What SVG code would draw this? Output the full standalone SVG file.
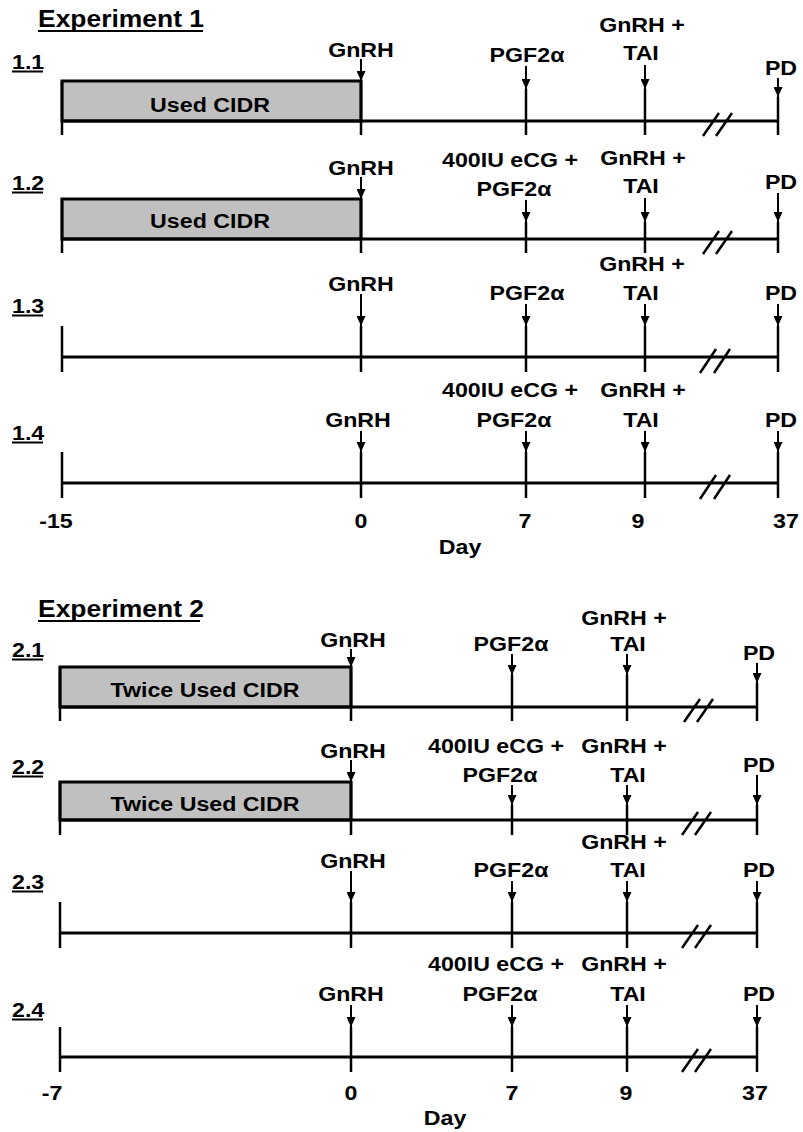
<svg xmlns="http://www.w3.org/2000/svg" width="803" height="1132" viewBox="0 0 803 1132">
<style>
.t{font-family:"Liberation Sans",Arial,sans-serif;font-weight:bold;font-size:20px;fill:#000}
.c{text-anchor:middle}
.h{font-size:23px}
.ax{stroke:#000;stroke-width:3;fill:none}
.tk{stroke:#000;stroke-width:2.5}
.box{fill:#c0c0c0;stroke:#000;stroke-width:3}
.ar{stroke:#000;stroke-width:2;fill:none;marker-end:url(#ah)}
.ul{stroke:#000;stroke-width:2}
.brk{stroke:#000;stroke-width:2.5}
</style>
<defs>
<marker id="ah" viewBox="0 0 10 10" refX="10" refY="5" markerWidth="10" markerHeight="9" markerUnits="userSpaceOnUse" orient="auto" preserveAspectRatio="none"><path d="M0,0 L10,5 L0,10 z" fill="#000"/></marker>
</defs>
<rect width="803" height="1132" fill="#fff"/>

<g id="title-exp1">
<text class="t h" transform="translate(38,27) scale(1.15,1)">Experiment 1</text>
<line class="ul" x1="38" y1="31" x2="203" y2="31"/>
</g>

<g id="row-1-1">
<text class="t" transform="translate(12,69) scale(1.16,1)">1.1</text>
<line class="ul" x1="12" y1="71.5" x2="43" y2="71.5"/>
<rect class="box" x="62" y="81" width="299" height="40"/>
<text class="t c" transform="translate(210,112) scale(1.16,1)">Used CIDR</text>
<line class="ax" x1="62" y1="121" x2="778" y2="121"/>
<line class="tk" x1="62" y1="81" x2="62" y2="135"/>
<line class="tk" x1="361" y1="81" x2="361" y2="135"/>
<line class="tk" x1="526" y1="89" x2="526" y2="135"/>
<line class="tk" x1="645" y1="89" x2="645" y2="135"/>
<line class="tk" x1="778" y1="97" x2="778" y2="135"/>
<line class="brk" x1="703" y1="136" x2="719" y2="113"/>
<line class="brk" x1="716" y1="136" x2="732" y2="113"/>
<text class="t c" transform="translate(361,57) scale(1.16,1)">GnRH</text>
<text class="t c" transform="translate(527,62) scale(1.16,1)">PGF2α</text>
<text class="t c" transform="translate(642,32) scale(1.16,1)">GnRH +</text>
<text class="t c" transform="translate(641,60) scale(1.16,1)">TAI</text>
<text class="t c" transform="translate(781,75) scale(1.16,1)">PD</text>
</g>

<g id="row-1-2">
<text class="t" transform="translate(12,190) scale(1.16,1)">1.2</text>
<line class="ul" x1="12" y1="192.5" x2="43" y2="192.5"/>
<rect class="box" x="62" y="199" width="299" height="40"/>
<text class="t c" transform="translate(210,228) scale(1.16,1)">Used CIDR</text>
<line class="ax" x1="62" y1="239" x2="778" y2="239"/>
<line class="tk" x1="62" y1="199" x2="62" y2="253"/>
<line class="tk" x1="361" y1="199" x2="361" y2="253"/>
<line class="tk" x1="526" y1="222" x2="526" y2="253"/>
<line class="tk" x1="645" y1="222" x2="645" y2="253"/>
<line class="tk" x1="778" y1="222" x2="778" y2="253"/>
<line class="brk" x1="703" y1="254" x2="719" y2="231"/>
<line class="brk" x1="716" y1="254" x2="732" y2="231"/>
<text class="t c" transform="translate(361,175) scale(1.16,1)">GnRH</text>
<text class="t c" transform="translate(510,167) scale(1.16,1)">400IU eCG +</text>
<text class="t c" transform="translate(514,196) scale(1.16,1)">PGF2α</text>
<text class="t c" transform="translate(643,165) scale(1.16,1)">GnRH +</text>
<text class="t c" transform="translate(641,193) scale(1.16,1)">TAI</text>
<text class="t c" transform="translate(781,189) scale(1.16,1)">PD</text>
</g>

<g id="row-1-3">
<text class="t" transform="translate(12,313) scale(1.16,1)">1.3</text>
<line class="ul" x1="12" y1="315.5" x2="43" y2="315.5"/>
<line class="ax" x1="62" y1="357" x2="778" y2="357"/>
<line class="tk" x1="62" y1="326" x2="62" y2="372"/>
<line class="tk" x1="361" y1="326" x2="361" y2="372"/>
<line class="tk" x1="526" y1="326" x2="526" y2="372"/>
<line class="tk" x1="645" y1="326" x2="645" y2="372"/>
<line class="tk" x1="778" y1="326" x2="778" y2="372"/>
<line class="brk" x1="700" y1="373" x2="716" y2="349"/>
<line class="brk" x1="714" y1="373" x2="730" y2="349"/>
<text class="t c" transform="translate(361,291) scale(1.16,1)">GnRH</text>
<text class="t c" transform="translate(527,300) scale(1.16,1)">PGF2α</text>
<text class="t c" transform="translate(642,271) scale(1.16,1)">GnRH +</text>
<text class="t c" transform="translate(641,300) scale(1.16,1)">TAI</text>
<text class="t c" transform="translate(781,300) scale(1.16,1)">PD</text>
</g>

<g id="row-1-4">
<text class="t" transform="translate(12,440) scale(1.16,1)">1.4</text>
<line class="ul" x1="12" y1="442.5" x2="43" y2="442.5"/>
<line class="ax" x1="62" y1="483" x2="778" y2="483"/>
<line class="tk" x1="62" y1="452" x2="62" y2="498"/>
<line class="tk" x1="361" y1="452" x2="361" y2="498"/>
<line class="tk" x1="526" y1="452" x2="526" y2="498"/>
<line class="tk" x1="645" y1="452" x2="645" y2="498"/>
<line class="tk" x1="778" y1="452" x2="778" y2="498"/>
<line class="brk" x1="700" y1="499" x2="716" y2="475"/>
<line class="brk" x1="714" y1="499" x2="730" y2="475"/>
<text class="t c" transform="translate(358,427) scale(1.16,1)">GnRH</text>
<text class="t c" transform="translate(510,397) scale(1.16,1)">400IU eCG +</text>
<text class="t c" transform="translate(514,427) scale(1.16,1)">PGF2α</text>
<text class="t c" transform="translate(643,397) scale(1.16,1)">GnRH +</text>
<text class="t c" transform="translate(641,427) scale(1.16,1)">TAI</text>
<text class="t c" transform="translate(781,427) scale(1.16,1)">PD</text>
</g>

<g id="axis-exp1">
<text class="t c" transform="translate(56,528) scale(1.16,1)">-15</text>
<text class="t c" transform="translate(361,528) scale(1.16,1)">0</text>
<text class="t c" transform="translate(525,528) scale(1.16,1)">7</text>
<text class="t c" transform="translate(638,528) scale(1.16,1)">9</text>
<text class="t c" transform="translate(786,528) scale(1.16,1)">37</text>
<text class="t c" transform="translate(460,554) scale(1.16,1)">Day</text>
</g>

<g id="title-exp2">
<text class="t h" transform="translate(38,617) scale(1.15,1)">Experiment 2</text>
<line class="ul" x1="38" y1="621" x2="200" y2="621"/>
</g>

<g id="row-2-1">
<text class="t" transform="translate(12,657) scale(1.16,1)">2.1</text>
<line class="ul" x1="12" y1="659.5" x2="43" y2="659.5"/>
<rect class="box" x="60" y="667" width="291" height="40"/>
<text class="t c" transform="translate(205,697) scale(1.16,1)">Twice Used CIDR</text>
<line class="ax" x1="60" y1="707" x2="757" y2="707"/>
<line class="tk" x1="60" y1="667" x2="60" y2="721"/>
<line class="tk" x1="351" y1="667" x2="351" y2="721"/>
<line class="tk" x1="512" y1="675" x2="512" y2="721"/>
<line class="tk" x1="627" y1="675" x2="627" y2="721"/>
<line class="tk" x1="757" y1="683" x2="757" y2="721"/>
<line class="brk" x1="684" y1="722" x2="700" y2="699"/>
<line class="brk" x1="697" y1="722" x2="713" y2="699"/>
<text class="t c" transform="translate(353,647) scale(1.16,1)">GnRH</text>
<text class="t c" transform="translate(511,651) scale(1.16,1)">PGF2α</text>
<text class="t c" transform="translate(624,625) scale(1.16,1)">GnRH +</text>
<text class="t c" transform="translate(628,651) scale(1.16,1)">TAI</text>
<text class="t c" transform="translate(759,660) scale(1.16,1)">PD</text>
</g>

<g id="row-2-2">
<text class="t" transform="translate(12,774) scale(1.16,1)">2.2</text>
<line class="ul" x1="12" y1="776.5" x2="43" y2="776.5"/>
<rect class="box" x="60" y="782" width="291" height="38"/>
<text class="t c" transform="translate(205,811) scale(1.16,1)">Twice Used CIDR</text>
<line class="ax" x1="60" y1="820" x2="757" y2="820"/>
<line class="tk" x1="60" y1="782" x2="60" y2="835"/>
<line class="tk" x1="351" y1="782" x2="351" y2="835"/>
<line class="tk" x1="512" y1="805" x2="512" y2="835"/>
<line class="tk" x1="627" y1="805" x2="627" y2="835"/>
<line class="tk" x1="757" y1="805" x2="757" y2="835"/>
<line class="brk" x1="682" y1="835" x2="698" y2="812"/>
<line class="brk" x1="695" y1="835" x2="711" y2="812"/>
<text class="t c" transform="translate(353,758) scale(1.16,1)">GnRH</text>
<text class="t c" transform="translate(496,753) scale(1.16,1)">400IU eCG +</text>
<text class="t c" transform="translate(500,782) scale(1.16,1)">PGF2α</text>
<text class="t c" transform="translate(624,753) scale(1.16,1)">GnRH +</text>
<text class="t c" transform="translate(628,782) scale(1.16,1)">TAI</text>
<text class="t c" transform="translate(759,772) scale(1.16,1)">PD</text>
</g>

<g id="row-2-3">
<text class="t" transform="translate(12,889) scale(1.16,1)">2.3</text>
<line class="ul" x1="12" y1="891.5" x2="43" y2="891.5"/>
<line class="ax" x1="60" y1="933" x2="757" y2="933"/>
<line class="tk" x1="60" y1="902" x2="60" y2="948"/>
<line class="tk" x1="351" y1="902" x2="351" y2="948"/>
<line class="tk" x1="512" y1="902" x2="512" y2="948"/>
<line class="tk" x1="627" y1="902" x2="627" y2="948"/>
<line class="tk" x1="757" y1="902" x2="757" y2="948"/>
<line class="brk" x1="682" y1="948" x2="698" y2="925"/>
<line class="brk" x1="695" y1="948" x2="711" y2="925"/>
<text class="t c" transform="translate(353,868) scale(1.16,1)">GnRH</text>
<text class="t c" transform="translate(511,877) scale(1.16,1)">PGF2α</text>
<text class="t c" transform="translate(624,849) scale(1.16,1)">GnRH +</text>
<text class="t c" transform="translate(628,877) scale(1.16,1)">TAI</text>
<text class="t c" transform="translate(759,877) scale(1.16,1)">PD</text>
</g>

<g id="row-2-4">
<text class="t" transform="translate(12,1017) scale(1.16,1)">2.4</text>
<line class="ul" x1="12" y1="1019.5" x2="43" y2="1019.5"/>
<line class="ax" x1="60" y1="1057" x2="757" y2="1057"/>
<line class="tk" x1="60" y1="1027" x2="60" y2="1072"/>
<line class="tk" x1="351" y1="1027" x2="351" y2="1072"/>
<line class="tk" x1="512" y1="1027" x2="512" y2="1072"/>
<line class="tk" x1="627" y1="1027" x2="627" y2="1072"/>
<line class="tk" x1="757" y1="1027" x2="757" y2="1072"/>
<line class="brk" x1="682" y1="1072" x2="698" y2="1049"/>
<line class="brk" x1="695" y1="1072" x2="711" y2="1049"/>
<text class="t c" transform="translate(351,1001) scale(1.16,1)">GnRH</text>
<text class="t c" transform="translate(496,971) scale(1.16,1)">400IU eCG +</text>
<text class="t c" transform="translate(500,1001) scale(1.16,1)">PGF2α</text>
<text class="t c" transform="translate(624,971) scale(1.16,1)">GnRH +</text>
<text class="t c" transform="translate(628,1001) scale(1.16,1)">TAI</text>
<text class="t c" transform="translate(759,1001) scale(1.16,1)">PD</text>
</g>

<g id="axis-exp2">
<text class="t c" transform="translate(52,1100) scale(1.16,1)">-7</text>
<text class="t c" transform="translate(351,1100) scale(1.16,1)">0</text>
<text class="t c" transform="translate(512,1100) scale(1.16,1)">7</text>
<text class="t c" transform="translate(626,1100) scale(1.16,1)">9</text>
<text class="t c" transform="translate(755,1100) scale(1.16,1)">37</text>
<text class="t c" transform="translate(445,1125) scale(1.16,1)">Day</text>
</g>

<g id="connectors">
<line class="ar" x1="361" y1="59" x2="361" y2="81"/>
<line class="ar" x1="526" y1="66" x2="526" y2="89"/>
<line class="ar" x1="645" y1="65" x2="645" y2="89"/>
<line class="ar" x1="778" y1="78" x2="778" y2="97"/>

<line class="ar" x1="361" y1="177" x2="361" y2="199"/>
<line class="ar" x1="526" y1="200" x2="526" y2="222"/>
<line class="ar" x1="645" y1="198" x2="645" y2="222"/>
<line class="ar" x1="778" y1="193" x2="778" y2="222"/>

<line class="ar" x1="361" y1="294" x2="361" y2="326"/>
<line class="ar" x1="526" y1="304" x2="526" y2="326"/>
<line class="ar" x1="645" y1="304" x2="645" y2="326"/>
<line class="ar" x1="778" y1="304" x2="778" y2="326"/>

<line class="ar" x1="361" y1="431" x2="361" y2="452"/>
<line class="ar" x1="526" y1="431" x2="526" y2="452"/>
<line class="ar" x1="645" y1="431" x2="645" y2="452"/>
<line class="ar" x1="778" y1="431" x2="778" y2="452"/>

<line class="ar" x1="351" y1="649" x2="351" y2="667"/>
<line class="ar" x1="512" y1="654" x2="512" y2="675"/>
<line class="ar" x1="627" y1="654" x2="627" y2="675"/>
<line class="ar" x1="757" y1="663" x2="757" y2="683"/>

<line class="ar" x1="351" y1="760" x2="351" y2="782"/>
<line class="ar" x1="512" y1="785" x2="512" y2="805"/>
<line class="ar" x1="627" y1="785" x2="627" y2="805"/>
<line class="ar" x1="757" y1="775" x2="757" y2="805"/>

<line class="ar" x1="351" y1="871" x2="351" y2="902"/>
<line class="ar" x1="512" y1="881" x2="512" y2="902"/>
<line class="ar" x1="627" y1="881" x2="627" y2="902"/>
<line class="ar" x1="757" y1="881" x2="757" y2="902"/>

<line class="ar" x1="351" y1="1005" x2="351" y2="1027"/>
<line class="ar" x1="512" y1="1005" x2="512" y2="1027"/>
<line class="ar" x1="627" y1="1005" x2="627" y2="1027"/>
<line class="ar" x1="757" y1="1005" x2="757" y2="1027"/>
</g>
</svg>
